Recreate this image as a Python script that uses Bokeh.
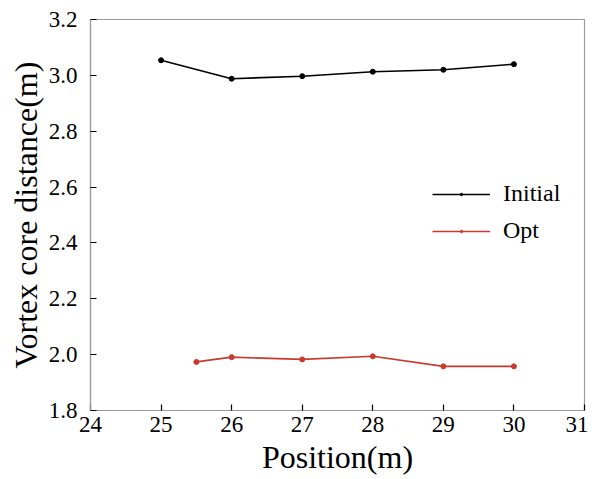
from bokeh.plotting import figure
from bokeh.models import Range1d, FixedTicker, Legend, LegendItem
from bokeh.embed import file_html
from bokeh.resources import INLINE

x_initial = [25, 26, 27, 28, 29, 30]
y_initial = [3.054, 2.988, 2.997, 3.013, 3.020, 3.040]
x_opt = [25.5, 26, 27, 28, 29, 30]
y_opt = [1.974, 1.991, 1.983, 1.994, 1.958, 1.958]
x_ticks = [24, 25, 26, 27, 28, 29, 30, 31]
y_ticks = [1.8, 2.0, 2.2, 2.4, 2.6, 2.8, 3.0, 3.2]

FONT = "Liberation Serif"
RED = "#c93a2e"

p = figure(width=588, height=477, output_backend="svg", toolbar_location=None,
           x_range=Range1d(24, 31), y_range=Range1d(1.8, 3.2),
           min_border_left=90, min_border_right=4, min_border_top=19, min_border_bottom=65)

l1 = p.line(x_initial, y_initial, line_color="black", line_width=1.6)
s1 = p.scatter(x_initial, y_initial, size=5, fill_color="black", line_color="black")
l2 = p.line(x_opt, y_opt, line_color=RED, line_width=1.6)
s2 = p.scatter(x_opt, y_opt, size=5, fill_color=RED, line_color=RED)

p.grid.visible = False
p.outline_line_color = "#999999"
p.outline_line_width = 1.2

for ax in (p.xaxis[0], p.yaxis[0]):
    ax.axis_line_color = "#999999"
    ax.axis_line_width = 1.2
    ax.major_tick_in = 6
    ax.major_tick_out = 0
    ax.major_tick_line_color = "black"
    ax.major_tick_line_width = 1.2
    ax.minor_tick_line_color = None
    ax.major_label_text_font = FONT
    ax.major_label_text_font_size = "23px"
    ax.major_label_text_color = "black"
    ax.axis_label_text_font = FONT
    ax.axis_label_text_font_size = "32px"
    ax.axis_label_text_font_style = "normal"
    ax.axis_label_text_color = "black"

p.xaxis[0].ticker = FixedTicker(ticks=x_ticks)
p.yaxis[0].ticker = FixedTicker(ticks=y_ticks)
p.xaxis[0].major_label_overrides = {t: str(t) for t in x_ticks}
p.yaxis[0].major_label_overrides = {t: f"{t:.1f}" for t in y_ticks}
p.xaxis[0].major_label_standoff = 6
p.yaxis[0].major_label_standoff = 13
p.xaxis[0].axis_label = "Position(m)"
p.yaxis[0].axis_label = "Vortex core distance(m)"
p.xaxis[0].axis_label_standoff = 4
p.yaxis[0].axis_label_standoff = 2

legend = Legend(items=[LegendItem(label="Initial", renderers=[l1, s1]),
                       LegendItem(label="Opt", renderers=[l2, s2])],
                location=(342, 166))
legend.background_fill_alpha = 0
legend.border_line_color = None
legend.label_text_font = FONT
legend.label_text_font_size = "24px"
legend.label_text_color = "black"
legend.glyph_width = 58
legend.glyph_height = 6
legend.label_height = 20
legend.spacing = 10
legend.padding = 0
legend.margin = 0
legend.label_standoff = 13
p.add_layout(legend, "center")

open("out.html", "w").write(file_html(p, INLINE))
